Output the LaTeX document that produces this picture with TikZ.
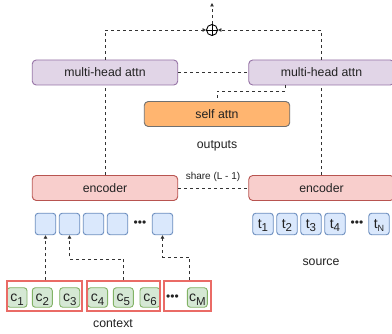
\documentclass[tikz,border=0pt]{standalone}
\usepackage{fontspec}
\setmainfont{Liberation Sans}
\usetikzlibrary{arrows.meta}
\newcommand\fsz[1]{\fontsize{#1}{#1}\selectfont}
\newcommand\subx[1]{\raisebox{-3.5pt}{\fsz{11.5}#1}}
\definecolor{purpF}{HTML}{E1D5E7}
\definecolor{purpD}{HTML}{9673A6}
\definecolor{oranF}{HTML}{FFB570}
\definecolor{oranD}{HTML}{707070}
\definecolor{redF}{HTML}{F8CECC}
\definecolor{redD}{HTML}{B85450}
\definecolor{bluF}{HTML}{DAE8FC}
\definecolor{bluD}{HTML}{6C8EBF}
\definecolor{grnF}{HTML}{D5E8D4}
\definecolor{grnD}{HTML}{82B366}
\definecolor{grpR}{HTML}{EA6B66}
\definecolor{txt}{HTML}{222222}
\definecolor{lne}{HTML}{333333}
\tikzset{
  base/.style={rectangle, rounded corners=4pt, draw, line width=0.9pt, font=\fsz{12.3}, text=txt, inner sep=0pt},
  bigbox/.style={base, minimum width=145.5pt, minimum height=25pt},
  mha/.style={bigbox, fill=purpF, draw=purpD},
  enc/.style={bigbox, fill=redF, draw=redD},
  sattn/.style={bigbox, fill=oranF, draw=oranD},
  tokbase/.style={base, rounded corners=3pt, font=\fsz{14}, text height=10pt, text depth=1pt},
  tok/.style={tokbase, fill=bluF, draw=bluD, minimum width=20.5pt, minimum height=21.5pt},
  ctok/.style={tokbase, fill=grnF, draw=grnD, minimum width=20pt, minimum height=19.5pt},
  grp/.style={rectangle, draw=grpR, line width=2pt, inner sep=0pt},
  lbl/.style={font=\fsz{12.3}, text=txt, inner sep=0pt},
  dots/.style={font=\fsz{12}, text=txt, inner sep=0pt},
  dl/.style={draw=lne, line width=0.9pt, dash pattern=on 3pt off 3pt},
  tip/.style={-{Triangle[length=3.5pt,width=3.5pt]}}
}
\begin{document}
\begin{tikzpicture}[x=1pt,y=-1pt]
\useasboundingbox (0,0) rectangle (392,334);
\clip (0,0) rectangle (392,334);
\fill[white] (0,0) rectangle (392,334);
% main boxes
\node[mha] (mhaL) at (105,72.5) {multi-head attn};
\node[mha] (mhaR) at (321.5,72.5) {multi-head attn};
\node[sattn] (sa) at (217,114) {self attn};
\node[lbl] (out) at (217,146) {outputs};
\node[enc] (encL) at (105,188) {encoder};
\node[enc] (encR) at (321.5,188) {encoder};
\node[font=\fsz{10}, text=txt, inner sep=0pt] (share) at (213,177) {share (L - 1)};
% sum
\node[circle, draw=black, line width=0.9pt, minimum size=11pt, inner sep=0pt] (sum) at (212,30) {};
\draw[line width=0.9pt] (sum.north) -- (sum.south) (sum.west) -- (sum.east);
\coordinate (topout) at (212,3);
% context tokens (blue)
\node[tok] (b1) at (45.5,224) {};
\node[tok] (b2) at (69.5,224) {};
\node[tok] (b3) at (93.5,224) {};
\node[tok] (b4) at (117.5,224) {};
\node[dots] (bd) at (140,224) {•••};
\node[tok] (bM) at (162.5,224) {};
% source tokens
\node[tok] (t1) at (263,224) {t\subx{1}};
\node[tok] (t2) at (287,224) {t\subx{2}};
\node[tok] (t3) at (311,224) {t\subx{3}};
\node[tok] (t4) at (335,224) {t\subx{4}};
\node[dots] (td) at (357,224) {•••};
\node[tok] (tN) at (379,224) {t\subx{\fsz{9}N}};
\node[lbl] (src) at (321,262) {source};
% context characters
\node[ctok] (c1) at (17,297.5) {c\subx{1}};
\node[ctok] (c2) at (42.3,297.5) {c\subx{2}};
\node[ctok] (c3) at (69.7,297.5) {c\subx{3}};
\node[ctok] (c4) at (97.6,297.5) {c\subx{4}};
\node[ctok] (c5) at (123.3,297.5) {c\subx{5}};
\node[ctok] (c6) at (150,297.5) {c\subx{6}};
\node[dots] (cd) at (172.5,297.5) {•••};
\node[ctok] (cM) at (197.3,297.5) {c\subx{M}};
\node[grp, minimum width=74.5pt, minimum height=30pt] (g1) at (44.25,296.5) {};
\node[grp, minimum width=73pt, minimum height=30pt] (g2) at (123.5,296.5) {};
\node[grp, minimum width=47pt, minimum height=30pt] (g3) at (187.5,296.5) {};
\node[lbl] (ctx) at (113,324) {context};
% connectors
\draw[dl,tip] (mhaL.north) |- (sum.west);
\draw[dl,tip] (mhaR.north) |- (sum.east);
\draw[dl,tip] (sum.north) -- (topout);
\draw[dl] (mhaL.east) -- (mhaR.west);
\draw[dl] (encL.east) -- (encR.west);
\draw[dl] (encL.north) -- (mhaL.south);
\draw[dl] (encR.north) -- (mhaR.south);
\draw[dl] ([xshift=-36.5pt]mhaR.south) -- ++(0,6) -| (sa.north);
\draw[dl,tip] (g1.north -| b1.south) -- (b1.south);
\draw[dl,tip] (g2.north) -- ++(0,-21.5) -| (b2.south);
\draw[dl,tip] ([xshift=1.5pt]g3.north) -- ++(0,-23.5) -| (bM.south);
\end{tikzpicture}
\end{document}
